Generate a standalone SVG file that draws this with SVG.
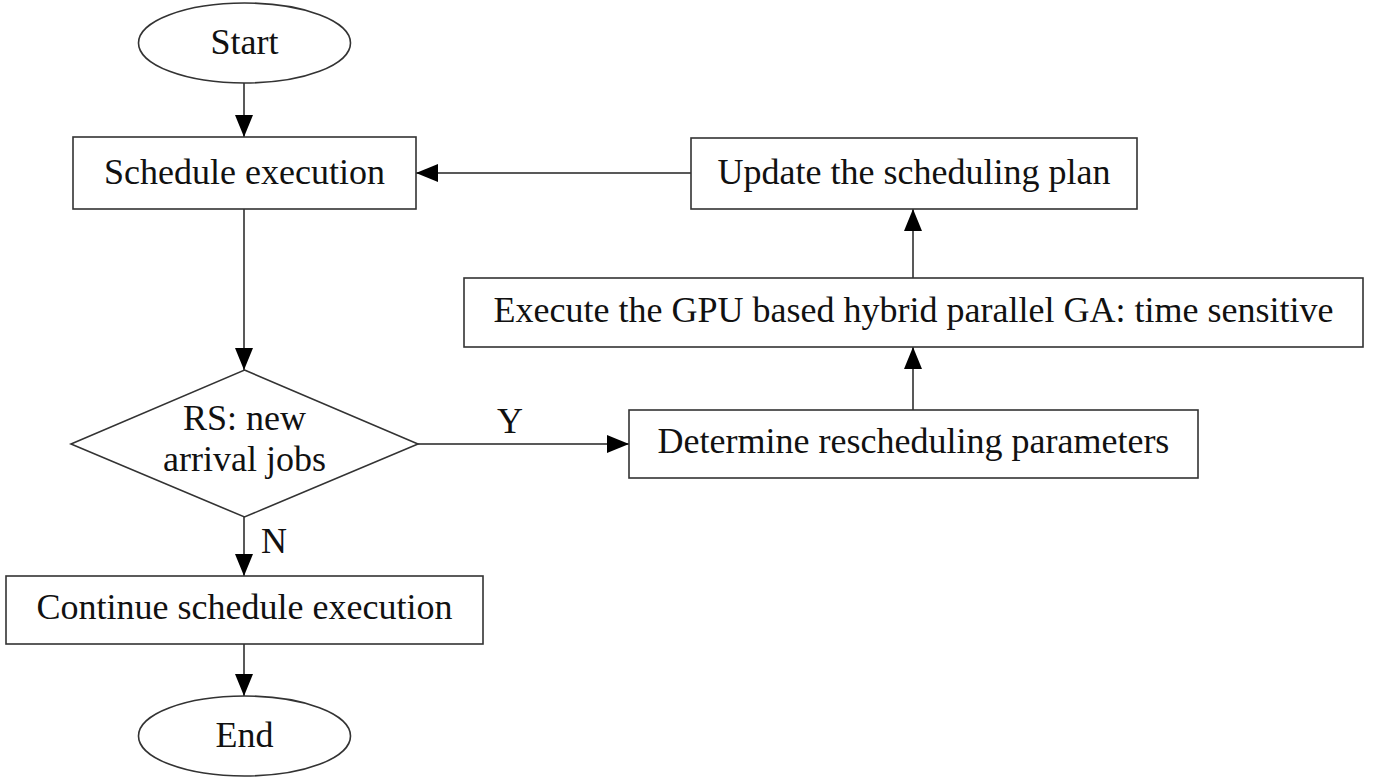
<svg xmlns="http://www.w3.org/2000/svg" width="1379" height="778" viewBox="0 0 1379 778">
<style>
.n{fill:#fff;stroke:#333;stroke-width:1.6}
.t{font-family:"Liberation Serif","Times New Roman",serif;font-size:36px;fill:#111;text-anchor:middle}
.e{fill:none;stroke:#222;stroke-width:1.5}
</style>
<defs>
<marker id="ah" markerUnits="userSpaceOnUse" markerWidth="22" markerHeight="18" refX="22" refY="9" orient="auto">
<path d="M0,0 L22,9 L0,18 z" fill="#000"/>
</marker>
</defs>
<rect width="1379" height="778" fill="#fff"/>
<g id="connectors">
<line class="e" x1="244" y1="83" x2="244" y2="137" marker-end="url(#ah)"/>
<line class="e" x1="244" y1="209" x2="244" y2="370" marker-end="url(#ah)"/>
<line class="e" x1="244" y1="517" x2="244" y2="576" marker-end="url(#ah)"/>
<line class="e" x1="244" y1="644" x2="244" y2="696" marker-end="url(#ah)"/>
<line class="e" x1="418" y1="444" x2="629" y2="444" marker-end="url(#ah)"/>
<line class="e" x1="913" y1="410" x2="913" y2="347" marker-end="url(#ah)"/>
<line class="e" x1="913" y1="278" x2="913" y2="209" marker-end="url(#ah)"/>
<line class="e" x1="691" y1="173" x2="416" y2="173" marker-end="url(#ah)"/>
<text class="t" x="510" y="433">Y</text>
<text class="t" x="274" y="553">N</text>
</g>
<g id="start">
<ellipse class="n" cx="244.5" cy="43" rx="106" ry="40"/>
<text class="t" x="244.5" y="54">Start</text>
</g>
<g id="schedule">
<rect class="n" x="73" y="137" width="343" height="72"/>
<text class="t" x="244.5" y="184">Schedule execution</text>
</g>
<g id="decision">
<polygon class="n" points="244.5,370 418,444 244.5,517 71,444"/>
<text class="t" x="244.5" y="430">RS: new</text>
<text class="t" x="244.5" y="471">arrival jobs</text>
</g>
<g id="continue">
<rect class="n" x="6" y="576" width="477" height="68"/>
<text class="t" x="244.5" y="619">Continue schedule execution</text>
</g>
<g id="end">
<ellipse class="n" cx="244.5" cy="736" rx="106" ry="40"/>
<text class="t" x="244.5" y="747">End</text>
</g>
<g id="determine">
<rect class="n" x="629" y="410" width="569" height="68"/>
<text class="t" x="913.5" y="453">Determine rescheduling parameters</text>
</g>
<g id="execute">
<rect class="n" x="464" y="278" width="899" height="69"/>
<text class="t" x="913.5" y="322">Execute the GPU based hybrid parallel GA: time sensitive</text>
</g>
<g id="update">
<rect class="n" x="691" y="138" width="446" height="71"/>
<text class="t" x="914" y="184">Update the scheduling plan</text>
</g>
</svg>
